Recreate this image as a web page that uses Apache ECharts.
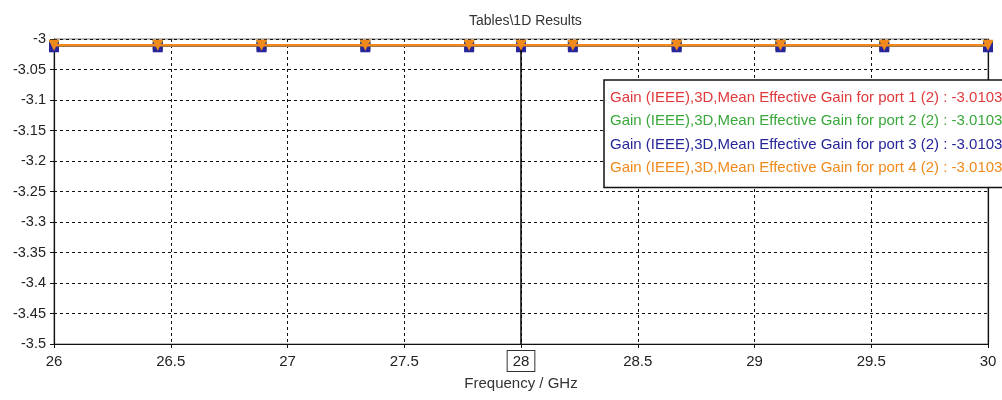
<!DOCTYPE html>
<html>
<head>
<meta charset="utf-8">
<script src="https://cdn.jsdelivr.net/npm/echarts@6/dist/echarts.min.js"></script>
<style>html,body{margin:0;padding:0;background:#fff}#c{width:1002px;height:400px}</style>
</head>
<body>
<div id="c"></div>
<script>
var freq = [26, 26.4444, 26.8889, 27.3333, 27.7778, 28, 28.2222, 28.6667, 29.1111, 29.5556, 30];
var gainPort1 = [-3.0103, -3.0103, -3.0103, -3.0103, -3.0103, -3.0103, -3.0103, -3.0103, -3.0103, -3.0103, -3.0103];
var gainPort2 = [-3.0103, -3.0103, -3.0103, -3.0103, -3.0103, -3.0103, -3.0103, -3.0103, -3.0103, -3.0103, -3.0103];
var gainPort3 = [-3.0103, -3.0103, -3.0103, -3.0103, -3.0103, -3.0103, -3.0103, -3.0103, -3.0103, -3.0103, -3.0103];
var gainPort4 = [-3.0103, -3.0103, -3.0103, -3.0103, -3.0103, -3.0103, -3.0103, -3.0103, -3.0103, -3.0103, -3.0103];
var seriesNames = [
  'Gain (IEEE),3D,Mean Effective Gain for port 1 (2)',
  'Gain (IEEE),3D,Mean Effective Gain for port 2 (2)',
  'Gain (IEEE),3D,Mean Effective Gain for port 3 (2)',
  'Gain (IEEE),3D,Mean Effective Gain for port 4 (2)'
];
var legendValues = ['-3.0103', '-3.0103', '-3.0103', '-3.0103'];
var markerFreq = 28;
var colors = ['#e0393c', '#3aa83a', '#26269a', '#f0891c'];
var FONT = 'Liberation Sans';

function pairs(ys) { return freq.map(function (x, i) { return [x, ys[i]]; }); }
var allData = [gainPort1, gainPort2, gainPort3, gainPort4];
var symbols = ['rect', 'rect', 'rect', 'triangle'];
var symSizes = [10, 10, 10, 11];
var symRot = [0, 0, 0, 180];

var series = allData.map(function (d, i) {
  return {
    name: seriesNames[i],
    type: 'line',
    data: pairs(d),
    color: colors[i],
    lineStyle: { color: colors[i], width: 2.5 },
    symbol: symbols[i],
    symbolSize: symSizes[i],
    symbolRotate: symRot[i],
    symbolOffset: i === 2 ? [0, 2] : [0, 0],
    itemStyle: { color: colors[i] },
    showAllSymbol: true,
    animation: false,
    z: 2 + i
  };
});
series[3].markLine = {
  silent: true,
  symbol: 'none',
  animation: false,
  lineStyle: { color: '#000', type: 'solid', width: 1.5 },
  label: {
    show: true, position: 'start', distance: 7,
    formatter: function () { return String(markerFreq); },
    color: '#222', fontFamily: FONT, fontSize: 15,
    backgroundColor: '#fff', borderColor: '#333', borderWidth: 1,
    padding: [3, 5, 2, 5]
  },
  data: [{ xAxis: markerFreq }]
};

var chart = echarts.init(document.getElementById('c'), null, { renderer: 'canvas' });
chart.setOption({
  animation: false,
  backgroundColor: '#fff',
  title: {
    text: 'Tables\\1D Results', left: 464, top: 9,
    textStyle: { fontFamily: FONT, fontSize: 14, fontWeight: 'normal', color: '#333' }
  },
  legend: {
    orient: 'vertical', left: 604, top: 80,
    padding: [10, 30, 12, 1], itemGap: 8.5,
    itemWidth: 0, itemHeight: 0, icon: 'rect',
    backgroundColor: '#fff', borderColor: '#111', borderWidth: 1.5,
    data: seriesNames.map(function (n, i) { return { name: n, textStyle: { color: colors[i] } }; }),
    formatter: function (name) { return name + ' : ' + legendValues[seriesNames.indexOf(name)]; },
    textStyle: { fontFamily: FONT, fontSize: 15 },
    selectedMode: false
  },
  grid: { left: 54, right: 14, top: 39, bottom: 56, show: true, borderColor: '#777', borderWidth: 1 },
  xAxis: {
    type: 'value', min: 26, max: 30, interval: 0.5,
    name: 'Frequency / GHz', nameLocation: 'middle', nameGap: 32,
    nameTextStyle: { fontFamily: FONT, fontSize: 15, color: '#333' },
    axisLine: { show: true, onZero: false, lineStyle: { color: '#111', width: 1.2 } },
    axisTick: { show: true, length: 4, lineStyle: { color: '#111' } },
    axisLabel: { fontFamily: FONT, fontSize: 15, color: '#222', margin: 10 },
    splitLine: { show: true, lineStyle: { color: '#111', type: [3, 3], width: 1 } }
  },
  yAxis: [{
    type: 'value', min: -3.5, max: -3, interval: 0.05,
    axisLine: { show: true, onZero: false, lineStyle: { color: '#111', width: 1.2 } },
    axisTick: { show: true, length: 4, lineStyle: { color: '#111' } },
    axisLabel: { fontFamily: FONT, fontSize: 14.5, color: '#222', margin: 8 },
    splitLine: { show: true, lineStyle: { color: '#111', type: [3, 3], width: 1 } }
  }, {
    type: 'value', min: -3.5, max: -3, interval: 0.05, position: 'right',
    axisLine: { show: true, onZero: false, lineStyle: { color: '#111', width: 1.2 } },
    axisTick: { show: false }, axisLabel: { show: false }, splitLine: { show: false }
  }],
  series: series
});
</script>
</body>
</html>
